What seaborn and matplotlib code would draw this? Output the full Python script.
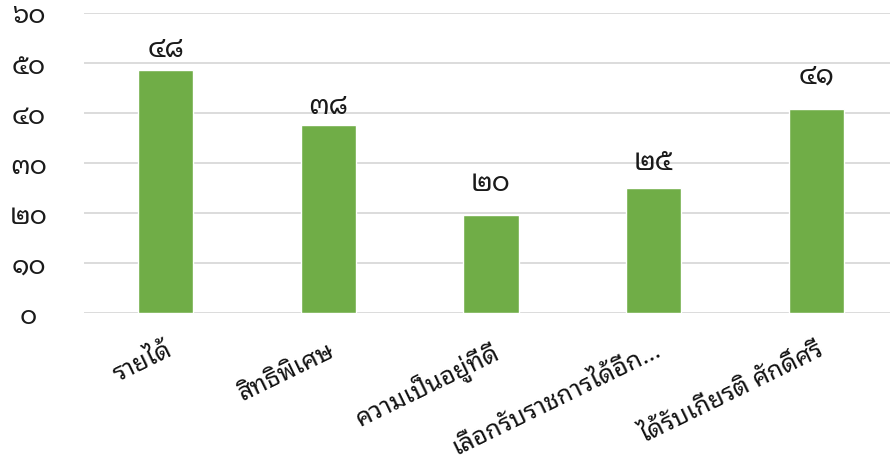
import matplotlib
matplotlib.use("Agg")
import matplotlib.pyplot as plt
import seaborn as sns
import pandas as pd

# Chart data
categories = ["รายได้", "สิทธิพิเศษ", "ความเป็นอยู่ที่ดี",
              "เลือกรับราชการได้อีก...", "ได้รับเกียรติ ศักดิ์ศรี"]
values = [48.6, 37.6, 19.6, 25.0, 40.8]
value_labels = ["๔๘", "๓๘", "๒๐", "๒๕", "๔๑"]
label_lift = [1.2, 0.9, 3.4, 2.2, 3.8]
y_ticks = [0, 10, 20, 30, 40, 50, 60]
y_tick_labels = ["๐", "๑๐", "๒๐", "๓๐", "๔๐", "๕๐", "๖๐"]

df = pd.DataFrame({"category": categories, "value": values})

sns.set_style("white")
plt.rcParams["font.family"] = ["Noto Sans Thai Looped", "DejaVu Sans"]

fig = plt.figure(figsize=(8.9, 4.68), dpi=100)
ax = fig.add_axes([84 / 890, 155 / 468, 814 / 890, 300 / 468])

sns.barplot(data=df, x="category", y="value", color="#70AD47",
            width=0.34, saturation=1, ax=ax)

ax.set_ylim(0, 60)
ax.set_xlim(-0.5, 4.5)
ax.set_yticks(y_ticks)
ax.set_yticklabels(y_tick_labels, fontsize=19, color="#1a1a1a")
ax.yaxis.grid(True, color="#D9D9D9", linewidth=1.3)
ax.set_axisbelow(True)
for s in ax.spines.values():
    s.set_visible(False)
ax.tick_params(axis="y", length=0, pad=40)
for lbl in ax.get_yticklabels():
    lbl.set_horizontalalignment("center")
ax.tick_params(axis="x", length=0, pad=18)
ax.set_xticks(range(len(categories)))
ax.set_xticklabels(categories, rotation=26, ha="right",
                   rotation_mode="anchor", fontsize=18, color="#111111")
ax.set_xlabel("")
ax.set_ylabel("")

for i, (v, t, d) in enumerate(zip(values, value_labels, label_lift)):
    ax.text(i, v + d, t, ha="center", va="bottom", fontsize=20,
            color="#1a1a1a")

fig.savefig("out.png", dpi=100)
